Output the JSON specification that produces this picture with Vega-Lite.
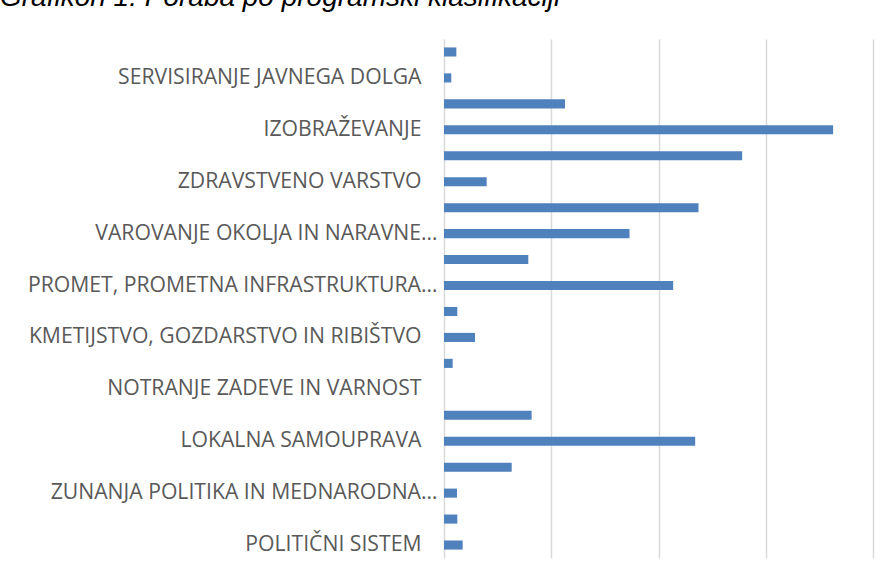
{
  "$schema": "https://vega.github.io/schema/vega-lite/v6.json",
  "autosize": {"type": "none"},
  "width": 429,
  "height": 519,
  "padding": {"left": 444, "top": 39, "right": 18, "bottom": 21},
  "background": "white",
  "title": {
    "text": "Grafikon 1: Poraba po programski klasifikaciji",
    "anchor": "start",
    "frame": "group",
    "dx": -444,
    "offset": 27,
    "font": "Liberation Sans",
    "fontSize": 28,
    "fontStyle": "italic",
    "fontWeight": "normal",
    "color": "#000000"
  },
  "data": {
    "values": [
      {"program": "INTERVENCIJSKI PROGRAMI IN OBVEZNOSTI", "value": 0.115},
      {"program": "SERVISIRANJE JAVNEGA DOLGA", "value": 0.068},
      {"program": "SOCIALNO VARSTVO", "value": 1.128},
      {"program": "IZOBRAŽEVANJE", "value": 3.628},
      {"program": "KULTURA, ŠPORT IN NEVLADNE ORGANIZACIJE", "value": 2.78},
      {"program": "ZDRAVSTVENO VARSTVO", "value": 0.398},
      {"program": "PROSTORSKO PLANIRANJE IN STANOVANJSKO KOMUNALNA DEJAVNOST", "value": 2.373},
      {"program": "VAROVANJE OKOLJA IN NARAVNE DEDIŠČINE", "value": 1.73},
      {"program": "GOSPODARSTVO", "value": 0.786},
      {"program": "PROMET, PROMETNA INFRASTRUKTURA IN KOMUNIKACIJE", "value": 2.137},
      {"program": "PRIDOBIVANJE IN DISTRIBUCIJA ENERGETSKIH SUROVIN", "value": 0.124},
      {"program": "KMETIJSTVO, GOZDARSTVO IN RIBIŠTVO", "value": 0.289},
      {"program": "TRG DELA IN DELOVNI POGOJI", "value": 0.081},
      {"program": "NOTRANJE ZADEVE IN VARNOST", "value": 0},
      {"program": "OBRAMBA IN UKREPI OB IZREDNIH DOGODKIH", "value": 0.817},
      {"program": "LOKALNA SAMOUPRAVA", "value": 2.342},
      {"program": "SKUPNE ADMINISTRATIVNE SLUŽBE IN SPLOŠNE JAVNE STORITVE", "value": 0.631},
      {"program": "ZUNANJA POLITIKA IN MEDNARODNA POMOČ", "value": 0.121},
      {"program": "EKONOMSKA IN FISKALNA ADMINISTRACIJA", "value": 0.124},
      {"program": "POLITIČNI SISTEM", "value": 0.174}
    ]
  },
  "mark": {"type": "bar", "color": "#4f81bd"},
  "encoding": {
    "y": {
      "field": "program",
      "type": "nominal",
      "sort": null,
      "scale": {"paddingInner": 0.65, "paddingOuter": 0.325},
      "axis": {
        "title": null,
        "domain": false,
        "ticks": false,
        "labelFont": "Open Sans",
        "labelFontSize": 21.2,
        "labelColor": "#595959",
        "labelLimit": 500,
        "labelBaseline": "middle",
        "labelPadding": {
          "condition": {"test": "indexof(['VAROVANJE OKOLJA IN NARAVNE DEDIŠČINE','PROMET, PROMETNA INFRASTRUKTURA IN KOMUNIKACIJE','ZUNANJA POLITIKA IN MEDNARODNA POMOČ'], datum.value) >= 0", "value": 7},
          "value": 23
        },
        "labelExpr": "indexof(['SERVISIRANJE JAVNEGA DOLGA','IZOBRAŽEVANJE','ZDRAVSTVENO VARSTVO','KMETIJSTVO, GOZDARSTVO IN RIBIŠTVO','NOTRANJE ZADEVE IN VARNOST','LOKALNA SAMOUPRAVA','POLITIČNI SISTEM'], datum.value) >= 0 ? datum.value : datum.value == 'VAROVANJE OKOLJA IN NARAVNE DEDIŠČINE' ? 'VAROVANJE OKOLJA IN NARAVNE…' : datum.value == 'PROMET, PROMETNA INFRASTRUKTURA IN KOMUNIKACIJE' ? 'PROMET, PROMETNA INFRASTRUKTURA…' : datum.value == 'ZUNANJA POLITIKA IN MEDNARODNA POMOČ' ? 'ZUNANJA POLITIKA IN MEDNARODNA…' : ''"
      }
    },
    "x": {
      "field": "value",
      "type": "quantitative",
      "scale": {"domain": [0, 4], "nice": false},
      "axis": {
        "title": null,
        "values": [0, 1, 2, 3, 4],
        "labels": false,
        "ticks": false,
        "domain": false,
        "grid": true,
        "gridColor": "#d9d9d9",
        "gridWidth": 1.5
      }
    }
  },
  "config": {"view": {"stroke": null}}
}
